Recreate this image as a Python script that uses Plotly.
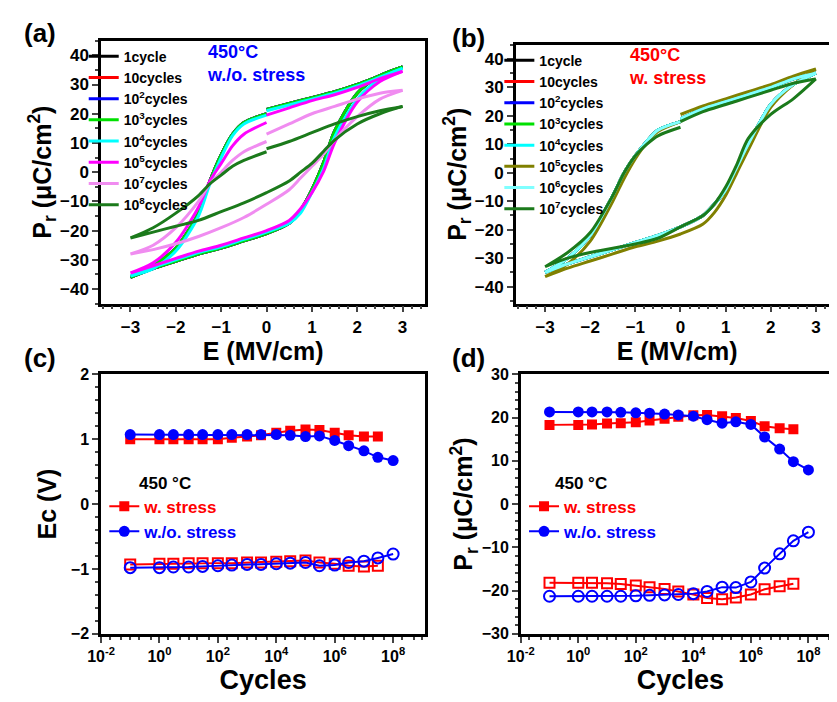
import plotly.graph_objects as go

# E grids for the hysteresis branches
E_up_pos = [3, 2.5, 2, 1.5, 1, 0.5, 0]
E_up_neg = [0, -0.5, -0.75, -1, -1.25, -1.5, -2, -2.5, -3]
E_low = [-3, -2.5, -2, -1.5, -1, -0.5, 0, 0.5, 0.75, 1, 1.25, 1.5, 2, 2.5, 3]

# panel (a) w/o stress
a_base_up_pos = [36, 33, 30, 27.5, 25.5, 23.5, 21.5]
a_base_up_neg = [20, 17, 13, 6, -3, -14, -26, -32, -36]
a_base_low = [-36, -33, -30.5, -28, -26, -23.5, -21, -17.5, -13, -6, 3, 14, 27, 33, 36]
a_1e4_up_pos = [35.5, 32.5, 29.5, 27, 25, 23, 21]
a_1e4_up_neg = [19.5, 16.5, 12.5, 5, -4, -15, -27, -33, -35.5]
a_1e4_low = [-35.5, -32.5, -30, -27.5, -25.5, -23, -20.5, -17.5, -14, -7, 1, 12, 25, 32, 35.5]
a_1e5_up_pos = [34.5, 32, 29, 26.5, 24.5, 22, 19.5]
a_1e5_up_neg = [17, 13, 9, 3, -3, -12, -24, -31, -34.5]
a_1e5_low = [-34.5, -32, -29.5, -27, -25, -22.5, -20, -16.5, -12.5, -7, 0, 10, 24, 31, 34.5]
a_1e7_up_pos = [28, 27, 25, 22.5, 20, 16.5, 13]
a_1e7_up_neg = [10.5, 7, 4, 0, -4, -10, -19, -25, -28]
a_1e7_low = [-28, -26.5, -24.5, -22, -19, -15.5, -11, -6, -2, 2, 6, 11, 19, 25, 28]
a_1e8_up_pos = [22.5, 21, 19, 16.5, 13.5, 10.5, 8]
a_1e8_up_neg = [7, 4, 2, -1, -4, -8, -14, -19, -22.5]
a_1e8_low = [-22.5, -20.5, -18.5, -16.5, -13.5, -10.5, -7, -3, 0, 3, 7, 11, 16.5, 20, 22.5]

# panel (b) w. stress
b_base_up_pos = [35, 33, 30, 27.5, 25, 22.5, 19]
b_base_up_neg = [18, 15, 11, 6, 0, -8, -22, -30, -35]
b_base_low = [-35, -32, -29.5, -27, -24.5, -22, -19, -15, -11, -6, 2, 10, 24, 31, 35]
b_1e5_up_pos = [36.5, 34, 31, 28.5, 26, 23.5, 20.5]
b_1e5_up_neg = [18, 14.5, 10.5, 5, -2, -10, -24, -32, -36.5]
b_1e5_low = [-36.5, -33.5, -31, -28.5, -26, -24, -21.5, -18, -14, -8, 0, 8, 23, 31, 36.5]
b_1e7_up_pos = [33, 31.5, 29, 26.5, 24, 21.5, 18]
b_1e7_up_neg = [16, 13, 10, 6, 0, -8, -21, -28, -33]
b_1e7_low = [-33, -30, -28, -26.5, -25, -23, -19, -15, -11, -5, 3, 12, 20.5, 26, 33]

# panels (c), (d)
cycles = [0.1, 1, 3, 10, 30, 100, 300, 1e3, 3e3, 1e4, 3e4, 1e5, 3e5, 1e6, 3e6, 1e7, 3e7, 1e8]
ec_ws_pos = [1.0, 1.0, 1.0, 1.0, 1.0, 1.0, 1.02, 1.04, 1.06, 1.1, 1.13, 1.15, 1.14, 1.1, 1.06, 1.04, 1.04]
ec_wo_pos = [1.07, 1.07, 1.07, 1.07, 1.07, 1.07, 1.07, 1.07, 1.07, 1.07, 1.06, 1.04, 1.05, 0.98, 0.9, 0.82, 0.72, 0.67]
ec_ws_neg = [-0.93, -0.92, -0.92, -0.91, -0.91, -0.91, -0.91, -0.9, -0.9, -0.89, -0.88, -0.87, -0.9, -0.92, -0.95, -0.96, -0.95]
ec_wo_neg = [-0.98, -0.98, -0.97, -0.97, -0.96, -0.95, -0.94, -0.93, -0.93, -0.92, -0.91, -0.9, -0.95, -0.94, -0.9, -0.88, -0.83, -0.77]
pr_ws_pos = [18.3, 18.3, 18.4, 18.6, 18.7, 18.9, 19.3, 19.7, 20.2, 20.5, 20.6, 20.3, 19.9, 19.2, 18.0, 17.5, 17.3]
pr_wo_pos = [21.3, 21.3, 21.3, 21.3, 21.2, 21.1, 21.0, 20.8, 20.6, 20.3, 19.5, 18.7, 19.0, 18.4, 15.5, 12.7, 9.8, 7.9]
pr_ws_neg = [-18.2, -18.2, -18.2, -18.3, -18.5, -18.8, -19.2, -19.6, -20.2, -20.9, -21.7, -22.0, -21.6, -20.9, -19.7, -19.0, -18.4]
pr_wo_neg = [-21.3, -21.3, -21.3, -21.3, -21.3, -21.2, -21.1, -21.0, -20.9, -20.7, -20.2, -19.2, -19.3, -18.0, -14.8, -11.5, -8.5, -6.5]

FONT = "Liberation Sans"


def loop(up_pos, up_neg, low):
    x = E_up_pos + [None] + E_up_neg + E_low
    y = up_pos + [None] + up_neg + low
    return x, y


a_loops = [
    ("1cycle", "black", (a_base_up_pos, a_base_up_neg, a_base_low)),
    ("10cycles", "red", (a_base_up_pos, a_base_up_neg, a_base_low)),
    ("10<sup>2</sup>cycles", "blue", (a_base_up_pos, a_base_up_neg, a_base_low)),
    ("10<sup>3</sup>cycles", "#00e000", (a_base_up_pos, a_base_up_neg, a_base_low)),
    ("10<sup>4</sup>cycles", "cyan", (a_1e4_up_pos, a_1e4_up_neg, a_1e4_low)),
    ("10<sup>5</sup>cycles", "#ff00ff", (a_1e5_up_pos, a_1e5_up_neg, a_1e5_low)),
    ("10<sup>7</sup>cycles", "#f08cf0", (a_1e7_up_pos, a_1e7_up_neg, a_1e7_low)),
    ("10<sup>8</sup>cycles", "#1b7a1b", (a_1e8_up_pos, a_1e8_up_neg, a_1e8_low)),
]
b_loops = [
    ("1cycle", "black", (b_base_up_pos, b_base_up_neg, b_base_low)),
    ("10cycles", "red", (b_base_up_pos, b_base_up_neg, b_base_low)),
    ("10<sup>2</sup>cycles", "blue", (b_base_up_pos, b_base_up_neg, b_base_low)),
    ("10<sup>3</sup>cycles", "#00e000", (b_base_up_pos, b_base_up_neg, b_base_low)),
    ("10<sup>4</sup>cycles", "cyan", (b_base_up_pos, b_base_up_neg, b_base_low)),
    ("10<sup>5</sup>cycles", "#808000", (b_1e5_up_pos, b_1e5_up_neg, b_1e5_low)),
    ("10<sup>6</sup>cycles", "#80ffff", (b_base_up_pos, b_base_up_neg, b_base_low)),
    ("10<sup>7</sup>cycles", "#1b7a1b", (b_1e7_up_pos, b_1e7_up_neg, b_1e7_low)),
]

fig = go.Figure()
for name, col, br in a_loops:
    x, y = loop(*br)
    fig.add_trace(go.Scatter(x=x, y=y, name=name, mode="lines",
                             line=dict(color=col, width=3, shape="spline", smoothing=0.8),
                             xaxis="x", yaxis="y", legend="legend"))
for name, col, br in b_loops:
    x, y = loop(*br)
    fig.add_trace(go.Scatter(x=x, y=y, name=name, mode="lines",
                             line=dict(color=col, width=3, shape="spline", smoothing=0.8),
                             xaxis="x2", yaxis="y2", legend="legend2"))

for ax, leg, ws_p, wo_p, ws_n, wo_n in [("3", "legend3", ec_ws_pos, ec_wo_pos, ec_ws_neg, ec_wo_neg),
                                        ("4", "legend4", pr_ws_pos, pr_wo_pos, pr_ws_neg, pr_wo_neg)]:
    fig.add_trace(go.Scatter(x=cycles[:17], y=ws_p, name="<span style='color:red'>w. stress</span>",
                             mode="lines+markers",
                             line=dict(color="red", width=2), marker=dict(symbol="square", size=10),
                             xaxis="x" + ax, yaxis="y" + ax, legend=leg))
    fig.add_trace(go.Scatter(x=cycles, y=wo_p, name="<span style='color:blue'>w./o. stress</span>",
                             mode="lines+markers",
                             line=dict(color="blue", width=2), marker=dict(symbol="circle", size=11),
                             xaxis="x" + ax, yaxis="y" + ax, legend=leg))
    fig.add_trace(go.Scatter(x=cycles[:17], y=ws_n, mode="lines+markers", showlegend=False,
                             line=dict(color="red", width=2),
                             marker=dict(symbol="square-open", size=10, line=dict(width=2)),
                             xaxis="x" + ax, yaxis="y" + ax))
    fig.add_trace(go.Scatter(x=cycles, y=wo_n, mode="lines+markers", showlegend=False,
                             line=dict(color="blue", width=2),
                             marker=dict(symbol="circle-open", size=11, line=dict(width=2)),
                             xaxis="x" + ax, yaxis="y" + ax))

axbase = dict(showline=True, mirror=True, linewidth=2.5, linecolor="black", ticks="outside",
              ticklen=6, tickwidth=2, showgrid=False, zeroline=False,
              minor=dict(ticks="outside", ticklen=3, tickwidth=1.5))
tf = dict(family=FONT, size=17, color="black", weight="bold")
nf = dict(family=FONT, size=16, color="black", weight="bold")
titf = dict(family=FONT, size=25, color="black", weight="bold")
cyc_title = dict(text="Cycles", font=dict(family=FONT, size=27, color="black", weight="bold"), standoff=4)
log_vals = [1e-2, 1, 1e2, 1e4, 1e6, 1e8]
log_text = ["10<sup>-2</sup>", "10<sup>0</sup>", "10<sup>2</sup>", "10<sup>4</sup>", "10<sup>6</sup>", "10<sup>8</sup>"]
p_ticks = [-40, -30, -20, -10, 0, 10, 20, 30, 40]

pr_title = "P<sub>r</sub> (μC/cm<sup>2</sup>)"
leg_a = dict(family=FONT, size=14, color="black", weight="bold")
layout = dict(
    width=837, height=702, paper_bgcolor="white", plot_bgcolor="white",
    font=dict(family=FONT, color="black"),
    margin=dict(l=0, r=0, t=0, b=0),
    xaxis=dict(axbase, domain=[0.096, 0.49], range=[-3.65, 3.5], dtick=1, tickfont=tf,
               title=dict(text="E (MV/cm)", font=titf, standoff=4), anchor="y"),
    yaxis=dict(axbase, domain=[0.58, 0.964], range=[-45, 45], tickvals=p_ticks,
               tickfont=tf, title=dict(text=pr_title, font=titf, standoff=2), anchor="x"),
    xaxis2=dict(axbase, domain=[0.6, 0.992], range=[-3.65, 3.5], dtick=1, tickfont=tf,
                title=dict(text="E (MV/cm)", font=titf, standoff=4), anchor="y2"),
    yaxis2=dict(axbase, domain=[0.58, 0.958], range=[-46, 45], tickvals=p_ticks,
                tickfont=tf, title=dict(text=pr_title, font=titf, standoff=2), anchor="x2"),
    xaxis3=dict(axbase, type="log", domain=[0.096, 0.49], range=[-2, 9.1], tickvals=log_vals,
                ticktext=log_text, tickfont=nf, title=cyc_title, anchor="y3"),
    yaxis3=dict(axbase, domain=[0.098, 0.477], range=[-2, 2], dtick=1, tickfont=nf,
                title=dict(text="Ec (V)", font=titf, standoff=8), anchor="x3"),
    xaxis4=dict(axbase, type="log", domain=[0.606, 0.994], range=[-2, 9.1], tickvals=log_vals,
                ticktext=log_text, tickfont=nf, title=cyc_title, anchor="y4"),
    yaxis4=dict(axbase, domain=[0.098, 0.477], range=[-30, 30], dtick=10, tickfont=nf,
                title=dict(text=pr_title, font=titf, standoff=2), anchor="x4"),
    legend=dict(x=0.075, y=0.964, xanchor="left", yanchor="top", bgcolor="rgba(0,0,0,0)", tracegroupgap=0,
                font=leg_a, itemwidth=30),
    legend2=dict(x=0.58, y=0.958, xanchor="left", yanchor="top", bgcolor="rgba(0,0,0,0)",
                 font=leg_a, itemwidth=30),
    legend3=dict(x=0.1, y=0.31, xanchor="left", yanchor="top", bgcolor="rgba(0,0,0,0)",
                 font=dict(family=FONT, size=17, weight="bold"), itemwidth=30),
    legend4=dict(x=0.61, y=0.31, xanchor="left", yanchor="top", bgcolor="rgba(0,0,0,0)",
                 font=dict(family=FONT, size=17, weight="bold"), itemwidth=30),
)
fig.update_layout(**layout)

ann = [
    dict(x=0.0, y=1.0, text="(a)", font=dict(family=FONT, size=26, color="black", weight="bold")),
    dict(x=0.52, y=0.992, text="(b)", font=dict(family=FONT, size=26, color="black", weight="bold")),
    dict(x=0.0, y=0.525, text="(c)", font=dict(family=FONT, size=26, color="black", weight="bold")),
    dict(x=0.52, y=0.525, text="(d)", font=dict(family=FONT, size=26, color="black", weight="bold")),
    dict(x=0.222, y=0.965, text="450°C<br>w./o. stress", align="left",
         font=dict(family=FONT, size=18, color="blue", weight="bold")),
    dict(x=0.735, y=0.96, text="450°C<br>w. stress", align="left",
         font=dict(family=FONT, size=18, color="red", weight="bold")),
    dict(x=0.14, y=0.335, text="450 °C", font=dict(family=FONT, size=17, color="black", weight="bold")),
    dict(x=0.645, y=0.335, text="450 °C", font=dict(family=FONT, size=17, color="black", weight="bold")),
]
for a in ann:
    fig.add_annotation(xref="paper", yref="paper", xanchor="left", yanchor="top", showarrow=False, **a)

fig.write_html("out.html")
